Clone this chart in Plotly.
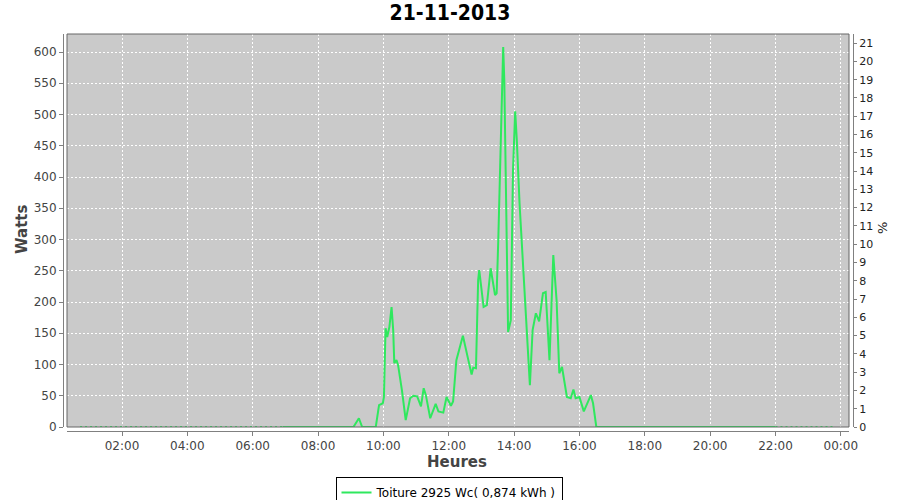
import plotly.graph_objects as go

DAY = "2013-11-21"
NEXT = "2013-11-22"

# Daytime production (W)
times = ["06:55", "09:05", "09:15", "09:21", "09:46", "09:52", "09:59", "10:01", "10:04", "10:07",
         "10:11", "10:15", "10:18", "10:20", "10:24", "10:27", "10:34", "10:41", "10:49", "10:55",
         "11:02", "11:09", "11:14", "11:18", "11:26", "11:36", "11:41", "11:50", "11:56", "12:04",
         "12:08", "12:14", "12:26", "12:32", "12:36", "12:42", "12:45", "12:50", "12:54", "12:56",
         "13:04", "13:10", "13:17", "13:25", "13:28", "13:31", "13:35", "13:40", "13:42", "13:45",
         "13:49", "13:54", "13:58", "14:02", "14:05", "14:10", "14:16", "14:23", "14:29", "14:34",
         "14:40", "14:46", "14:53", "14:58", "15:05", "15:12", "15:15", "15:18", "15:23", "15:28",
         "15:37", "15:44", "15:49", "15:53", "16:00", "16:08", "16:21", "16:25", "16:31", "22:00"]
watts = [0, 0, 14, 0, 0, 35, 38, 48, 158, 144,
         160, 192, 155, 102, 107, 99, 59, 11, 46, 50,
         49, 33, 62, 51, 14, 37, 25, 23, 48, 34,
         41, 107, 146, 120, 107, 84, 95, 94, 235, 251,
         192, 195, 254, 211, 214, 300, 454, 608, 555, 368,
         152, 171, 411, 505, 459, 358, 262, 166, 67, 155,
         182, 169, 214, 216, 107, 275, 240, 203, 86, 96,
         48, 46, 60, 46, 48, 25, 51, 38, 0, 0]

# Night-time (sparse) readings
night_times = [DAY + " 00:43", DAY + " 06:55", None, DAY + " 22:00", DAY + " 23:45"]
night_watts = [0, 0, None, 0, 0]

PEAK_WC = 2925
legend_name = "Toiture 2925 Wc( 0,874 kWh )"
title_text = "21-11-2013"

x_day = [f"{DAY} {t}" for t in times]
pct = [w / PEAK_WC * 100 for w in watts]

GREEN = "#2fe85e"
FONT = "DejaVu Sans"

fig = go.Figure()
fig.add_trace(go.Scatter(x=x_day, y=watts, mode="lines", name=legend_name,
                         line=dict(color=GREEN, width=2), showlegend=True, cliponaxis=False))
fig.add_trace(go.Scatter(x=night_times, y=night_watts, mode="lines", showlegend=False,
                         line=dict(color=GREEN, width=2, dash="2px,3px"), connectgaps=False,
                         hoverinfo="skip", cliponaxis=False))
fig.add_trace(go.Scatter(x=x_day, y=pct, mode="lines", yaxis="y2", showlegend=False,
                         line=dict(color="rgba(0,0,0,0)", width=0), hoverinfo="skip"))

ymax = 628.8
H = 397.0
W = 790.0


def px(xp):
    return (xp - 63) / W


def py(yp):
    return (431 - yp) / H


fig.update_layout(
    width=900, height=500,
    margin=dict(l=63, r=47, t=34, b=69, autoexpand=False),
    paper_bgcolor="white", plot_bgcolor="#cacaca",
    font=dict(family=FONT, size=12, color="#444444"),
    title=dict(text="<b>" + title_text + "</b>", x=0.5, xanchor="center", y=1 - 13 / 500,
               yanchor="middle", yref="container",
               font=dict(family="DejaVu Sans Condensed, DejaVu Sans", size=21, color="black")),
    xaxis=dict(
        type="date", domain=[4 / W, 786 / W], automargin=False,
        range=[DAY + " 00:19", NEXT + " 00:15"],
        tickformat="%H:%M", dtick=7200000, tick0=DAY + " 00:00",
        anchor="free", position=0,
        showline=True, linecolor="#808080", linewidth=1,
        ticks="outside", ticklen=4, tickcolor="#808080",
        showgrid=True, gridcolor="white", griddash="2px,2px", gridwidth=1,
        zeroline=False,
        tickfont=dict(size=12, color="#444444"),
    ),
    yaxis=dict(
        domain=[4 / H, 1], range=[0, ymax], dtick=50, automargin=False,
        anchor="free", position=0,
        showline=True, linecolor="#808080", linewidth=1,
        ticks="outside", ticklen=4, tickcolor="#808080",
        showgrid=True, gridcolor="white", griddash="2px,2px", gridwidth=1,
        zeroline=False,
        tickfont=dict(size=12, color="#444444"),
    ),
    yaxis2=dict(
        overlaying="y", side="right", range=[0, ymax / PEAK_WC * 100], dtick=1, automargin=False,
        anchor="free", position=1,
        showline=True, linecolor="#808080", linewidth=1,
        ticks="outside", ticklen=3, tickcolor="#808080",
        showgrid=False, zeroline=False,
        tickfont=dict(size=11, color="#222222"),
    ),
    legend=dict(
        orientation="h", xref="paper", yref="paper", x=px(449), xanchor="center",
        y=py(477), yanchor="top", bgcolor="white", bordercolor="black", borderwidth=1,
        font=dict(size=12, color="black"), itemwidth=30,
    ),
    annotations=[
        dict(text="<b>Watts</b>", x=px(22), y=py(230), xref="paper", yref="paper",
             showarrow=False, textangle=-90, font=dict(size=15, color="#444444"),
             xanchor="center", yanchor="middle"),
        dict(text="<b>Heures</b>", x=px(457), y=py(462), xref="paper", yref="paper",
             showarrow=False, font=dict(size=15, color="#444444"),
             xanchor="center", yanchor="middle"),
        dict(text="%", x=px(882), y=py(228), xref="paper", yref="paper",
             showarrow=False, textangle=-90, font=dict(size=13, color="#222222"),
             xanchor="center", yanchor="middle"),
    ],
    shapes=[dict(type="rect", xref="x domain", yref="y domain", x0=0, x1=1, y0=0, y1=1,
                 line=dict(color="#666666", width=1))],
)

fig.write_html("out.html", config={"displayModeBar": False},
               post_script="document.body.style.margin='0';document.body.style.overflow='hidden';")
